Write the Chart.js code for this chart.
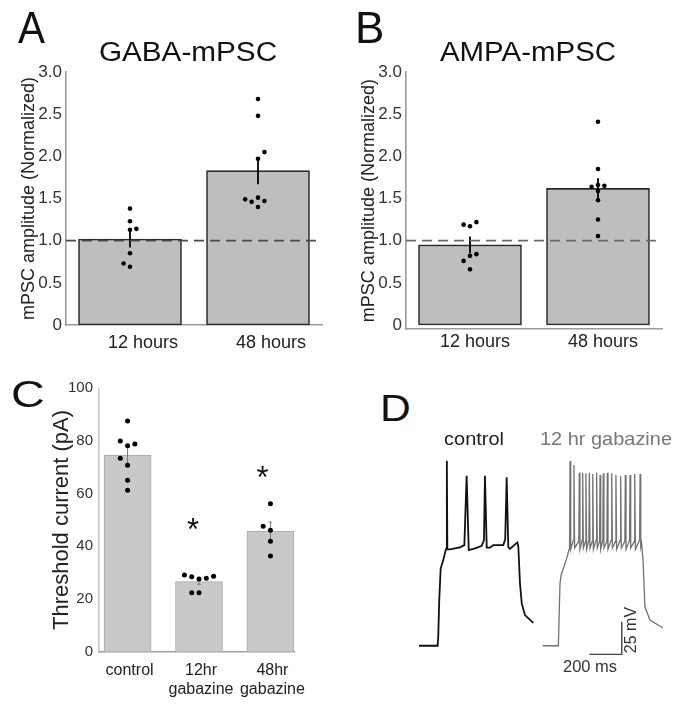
<!DOCTYPE html>
<html>
<head>
<meta charset="utf-8">
<script src="https://cdn.jsdelivr.net/npm/chart.js@4.4.1/dist/chart.umd.min.js"></script>
<style>
  html, body { margin: 0; padding: 0; background: #fff; }
  body { width: 685px; height: 711px; position: relative; overflow: hidden;
         font-family: 'Liberation Sans', Arial, sans-serif; }
  canvas { position: absolute; }
  .t { position: absolute; white-space: nowrap; color: #111; }
</style>
</head>
<body>
<canvas id="cA" width="340" height="360" style="left:0;top:0"></canvas>
<canvas id="cB" width="345" height="360" style="left:340px;top:0"></canvas>
<canvas id="cC" width="340" height="351" style="left:0;top:360px"></canvas>
<canvas id="cD" width="285" height="260" style="left:400px;top:440px"></canvas>

<div class="t" style="left:17.5px;top:6px;font-size:44px;line-height:44px;transform:scaleX(0.92);transform-origin:left top;">A</div>
<div class="t" style="left:355px;top:6px;font-size:44px;line-height:44px;">B</div>
<div class="t" style="left:11px;top:377px;font-size:36px;line-height:36px;transform:scaleX(1.3);transform-origin:left top;">C</div>
<div class="t" style="left:380px;top:390px;font-size:37px;line-height:37px;transform:scaleX(1.15);transform-origin:left top;">D</div>

<div class="t" style="left:87.5px;width:200px;text-align:center;top:39px;font-size:27px;line-height:27px;transform:scaleX(1.1);">GABA-mPSC</div>
<div class="t" style="left:427.5px;width:200px;text-align:center;top:39px;font-size:27px;line-height:27px;transform:scaleX(1.09);">AMPA-mPSC</div>

<div class="t" style="left:414px;width:120px;text-align:center;top:429px;font-size:19px;line-height:19px;color:#222;transform:scaleX(1.05);">control</div>
<div class="t" style="left:540px;top:429px;font-size:19px;line-height:19px;color:#777;transform:scaleX(1.05);transform-origin:left top;">12 hr gabazine</div>
<div class="t" style="left:563px;top:657.5px;font-size:16.5px;line-height:16.5px;color:#333;">200 ms</div>
<div class="t" style="left:601px;width:60px;text-align:center;top:622px;height:16px;font-size:16px;line-height:16px;color:#333;transform:rotate(-90deg);">25 mV</div>

<script>
// ---------------- DATA ----------------
// Panels A & B
const abCategories = ['12 hours', '48 hours'];
const abTickValues = [0, 0.5, 1, 1.5, 2, 2.5, 3];
const abTickLabels = ['0', '0.5', '1.0', '1.5', '2.0', '2.5', '3.0'];
const refLevel = 1.0;

const gabaMeans = [1.02, 1.83];
const gabaSem = [0.10, 0.16];
const gaba12h = [1.38, 1.23, 1.14, 1.13, 0.85, 0.73, 0.69];
const gaba48h = [2.68, 2.48, 2.05, 1.97, 1.49, 1.46, 1.51, 1.47, 1.40];

const ampaMeans = [0.95, 1.62];
const ampaSem = [0.10, 0.12];
const ampa12h = [1.19, 1.17, 1.22, 0.82, 0.84, 0.76, 0.66];
const ampa48h = [2.41, 1.85, 1.64, 1.66, 1.65, 1.59, 1.48, 1.25, 1.055];

// Panel C
const cCategories = [['control'], ['12hr', 'gabazine'], ['48hr', 'gabazine']];
const cTickValues = [0, 20, 40, 60, 80, 100];
const thrMeans = [74.6, 26.6, 45.8];
const thrSem = [3.6, 1.0, 3.4];
const thrControl = [87.6, 80.0, 78.2, 78.9, 73.4, 70.8, 65.1, 61.3];
const thr12hr = [29.1, 28.5, 27.6, 27.9, 28.6, 22.4, 22.4];
const thr48hr = [56.2, 47.6, 46.1, 41.9, 36.3];
const thrSig = [null, 48.8, 68.4];

// Panel D (time in ms, membrane potential in mV)
const controlTrace = [
  [0,-70],[115,-70],[119,-63],[125,-35],[134,-10.6],[150,-4.3],[165,3.4],[170,4.7],
  [172,71.9],[175,3.9],[191,3.9],[253,5.5],[280,7.2],[294,60.4],[307,3.4],[346,4.7],
  [387,6.7],[401,11.1],[407,60.4],[418,5.2],[438,5.2],[458,7.2],[520,7.2],[532,11.6],
  [541,59.2],[551,5.9],[561,4.2],[607,9.3],[613,5.9],[623,-22.1],[634,-37.5],[654,-46.5],[705,-52.4]
];
const gabazineTrace = [
  [763,-70],[860,-70],[866,-40],[870,-22.1],[877,-15.5],[890,-11],[911,-3],[926,3.9],
  [929,11],[932,71.7],[936,4],
  [953,11],[956,68.6],[960,5],
  [986,10],[989,62.7],[993,4],
  [1007,11],[1010,62.7],[1014,5],
  [1027,10],[1030,62.2],[1034,4],
  [1048,11],[1051,62.7],[1055,5],
  [1069,10],[1072,61.7],[1076,4],
  [1093,11],[1096,62.7],[1100,5],
  [1114,10],[1117,60.9],[1121,4],
  [1134,11],[1137,62.2],[1141,5],
  [1159,10],[1162,62.7],[1166,4],
  [1186,11],[1189,62.2],[1193,5],
  [1212,10],[1215,60.9],[1219,4],
  [1241,11],[1244,60.2],[1248,5],
  [1270,10],[1273,60.9],[1277,4],
  [1299,11],[1302,60.9],[1306,5],
  [1328,10],[1331,61.7],[1335,4],
  [1361,11],[1364,61.7],[1368,6],
  [1373,8.8],[1382,-4.3],[1394,-40.3],[1425,-50.3],[1505,-56.4]
];
const scaleBarMs = 200;
const scaleBarMv = 25;
const scaleBarCorner = [1251, -76.6];

// ---------------- LAYOUT (dot jitter slots, not data) ----------------
const slotsA12 = [0, 0, 1, 0, 0, -1, 0];
const slotsA48 = [0, 0, 1, 0, -2, -1, 0, 1, 0];
const slotsB12 = [-1, 0, 1, 0, 1, -1, 0];
const slotsB48 = [0, 0, -1, 0, 1, 0, 0, 0, 0];
const slotsC0 = [0, -1, 0, 1, -1, 0, 0, 0];
const slotsC1 = [-2, -1, 0, 1, 2, -1, 0];
const slotsC2 = [0, -1, 0, 0, 0];

Chart.defaults.font.family = "'Liberation Sans', Arial, sans-serif";
Chart.defaults.animation = false;
Chart.defaults.responsive = false;
Chart.defaults.plugins.legend.display = false;
Chart.defaults.plugins.tooltip.enabled = false;

const errPlugin = {
  id: 'errbars',
  afterDatasetDraw(chart, args, opts) {
    if (args.index !== 0 || !opts.sems) return;
    const ctx = chart.ctx, x = chart.scales.x, y = chart.scales.y;
    ctx.save();
    ctx.strokeStyle = opts.color; ctx.lineWidth = opts.width;
    opts.sems.forEach((s, i) => {
      const px = x.getPixelForValue(i);
      const y1 = y.getPixelForValue(opts.means[i] + s);
      const y2 = y.getPixelForValue(opts.means[i] - s);
      ctx.beginPath(); ctx.moveTo(px, y1); ctx.lineTo(px, y2);
      if (opts.cap) {
        ctx.moveTo(px - opts.cap, y1); ctx.lineTo(px + opts.cap, y1);
        ctx.moveTo(px - opts.cap, y2); ctx.lineTo(px + opts.cap, y2);
      }
      ctx.stroke();
    });
    ctx.restore();
  }
};

const sigPlugin = {
  id: 'sig',
  afterDatasetsDraw(chart, args, opts) {
    if (!opts.levels) return;
    const ctx = chart.ctx, x = chart.scales.x, y = chart.scales.y;
    ctx.save();
    ctx.fillStyle = '#111';
    ctx.font = opts.size + "px 'Liberation Sans', Arial, sans-serif";
    ctx.textAlign = 'center'; ctx.textBaseline = 'middle';
    opts.levels.forEach((v, i) => {
      if (v === null) return;
      ctx.fillText('*', x.getPixelForValue(i) + opts.dx[i], y.getPixelForValue(v) + opts.size * 0.27);
    });
    ctx.restore();
  }
};
Chart.register(errPlugin, sigPlugin);

function dots(values, cat, slots, unit) {
  return values.map((v, i) => ({ x: cat + slots[i] * unit, y: v }));
}

function mpscChart(id, title, means, sems, pts12, pts48, s12, s48, opt) {
  return new Chart(document.getElementById(id), {
    type: 'bar',
    data: {
      datasets: [
        { type: 'bar', data: means.map((m, i) => ({ x: i, y: m })), backgroundColor: '#bebebe',
          borderColor: '#2a2a2a', borderWidth: 1.6, borderSkipped: false, barThickness: 103, order: 3 },
        { type: 'line', data: [{ x: -0.5, y: refLevel }, { x: 1.5, y: refLevel }], borderColor: opt.dashColor,
          borderWidth: 1.6, borderDash: [10, 6], pointRadius: 0, order: 2 },
        { type: 'scatter', data: dots(pts12, 0, s12, 0.05).concat(dots(pts48, 1, s48, 0.05)),
          backgroundColor: '#000', borderWidth: 0, pointRadius: 2.3, order: 1 }
      ]
    },
    options: {
      layout: { padding: { top: 72, right: opt.right, bottom: 0, left: 0 } },
      plugins: { errbars: { means: means, sems: sems, color: '#000', width: 1.8, cap: 0 } },
      scales: {
        x: {
          type: 'linear', min: -0.5, max: 1.5, offset: false,
          afterBuildTicks: (s) => { s.ticks = abCategories.map((c, i) => ({ value: i })); },
          afterFit: (s) => { s.height = opt.xh; },
          grid: { display: false, drawTicks: false, offset: false },
          border: { display: true, color: '#9a9a9a', width: 1.6 },
          ticks: { callback: (v) => abCategories[v], padding: opt.xpad, labelOffset: opt.lo, autoSkip: false,
                   font: { size: 18 }, color: '#222', maxRotation: 0 }
        },
        y: {
          min: opt.ymin, max: 3,
          afterBuildTicks: (s) => { s.ticks = abTickValues.map(v => ({ value: v })); },
          afterFit: (s) => { s.width = 66; },
          grid: { display: false, drawTicks: false },
          border: { display: true, color: '#9a9a9a', width: 1.6 },
          ticks: { callback: (v) => abTickLabels[abTickValues.indexOf(v)], padding: 4, autoSkip: false,
                   font: { size: 17 }, color: '#333' },
          title: { display: true, text: title, font: { size: 18, lineHeight: 1.2 }, color: '#222',
                   padding: { top: 18.5, bottom: 0 } }
        }
      }
    }
  });
}

mpscChart('cA', 'mPSC amplitude (Normalized)', gabaMeans, gabaSem, gaba12h, gaba48h, slotsA12, slotsA48,
  { right: 18, ymin: 0, xh: 35, xpad: 7, lo: 13, dashColor: '#4a4a4a' });
mpscChart('cB', 'mPSC amplitude (Normalized)', ampaMeans, ampaSem, ampa12h, ampa48h, slotsB12, slotsB48,
  { right: 23, ymin: -0.05, xh: 30.8, xpad: 2.5, lo: 5, dashColor: '#6a6a6a' });

// Panel C
new Chart(document.getElementById('cC'), {
  type: 'bar',
  data: {
    datasets: [
      { type: 'bar', data: thrMeans.map((m, i) => ({ x: i, y: m })), backgroundColor: '#c9c9c9',
        borderColor: '#a8a8a8', borderWidth: 1, borderSkipped: 'start', barThickness: 47, order: 3 },
      { type: 'scatter',
        data: dots(thrControl, 0, slotsC0, 0.102).concat(dots(thr12hr, 1, slotsC1, 0.102), dots(thr48hr, 2, slotsC2, 0.102)),
        backgroundColor: '#000', borderWidth: 0, pointRadius: 2.5, order: 1 }
    ]
  },
  options: {
    layout: { padding: { top: 28.3, right: 46, bottom: 0, left: 0 } },
    plugins: {
      errbars: { means: thrMeans, sems: thrSem, color: '#777', width: 1, cap: 1.8 },
      sig: { levels: thrSig, size: 31, dx: [0, -6, -8] }
    },
    scales: {
      x: {
        type: 'linear', min: -0.4, max: 2.33, offset: false,
        afterBuildTicks: (s) => { s.ticks = cCategories.map((c, i) => ({ value: i })); },
        afterFit: (s) => { s.height = 59.3; },
        grid: { display: false, drawTicks: false, offset: false },
        border: { display: true, color: '#a0a0a0', width: 1.4 },
        ticks: { callback: (v) => cCategories[v], padding: 10, labelOffset: 2, autoSkip: false,
                 font: { size: 16, lineHeight: 1.15 }, color: '#222', maxRotation: 0 }
      },
      y: {
        min: 0, max: 100,
        afterBuildTicks: (s) => { s.ticks = cTickValues.map(v => ({ value: v })); },
        afterFit: (s) => { s.width = 99; },
        grid: { display: false, drawTicks: false },
        border: { display: true, color: '#c4c4c4', width: 1.5 },
        ticks: { padding: 6, font: { size: 15 }, color: '#333', autoSkip: false },
        title: { display: true, text: 'Threshold current (pA)', font: { size: 22, lineHeight: 1.2 }, color: '#222',
                 padding: { top: 48.5, bottom: 0 } }
      }
    }
  }
});

// Panel D
const toXY = (arr) => arr.map(p => ({ x: p[0], y: p[1] }));
const scaleBar = [
  { x: scaleBarCorner[0] - scaleBarMs, y: scaleBarCorner[1] },
  { x: scaleBarCorner[0], y: scaleBarCorner[1] },
  { x: scaleBarCorner[0], y: scaleBarCorner[1] + scaleBarMv }
];
new Chart(document.getElementById('cD'), {
  type: 'scatter',
  data: {
    datasets: [
      { data: toXY(controlTrace), showLine: true, borderColor: '#111', borderWidth: 1.8, pointRadius: 0, tension: 0 },
      { data: toXY(gabazineTrace), showLine: true, borderColor: '#727272', borderWidth: 1.3, pointRadius: 0, tension: 0 },
      { data: scaleBar, showLine: true, borderColor: '#444', borderWidth: 1.4, pointRadius: 0, tension: 0 }
    ]
  },
  options: {
    layout: { padding: 0 },
    clip: false,
    scales: {
      x: { type: 'linear', display: false, min: -117, max: 1641 },
      y: { type: 'linear', display: false, min: -111.6, max: 87.8 }
    }
  }
});
</script>
</body>
</html>
